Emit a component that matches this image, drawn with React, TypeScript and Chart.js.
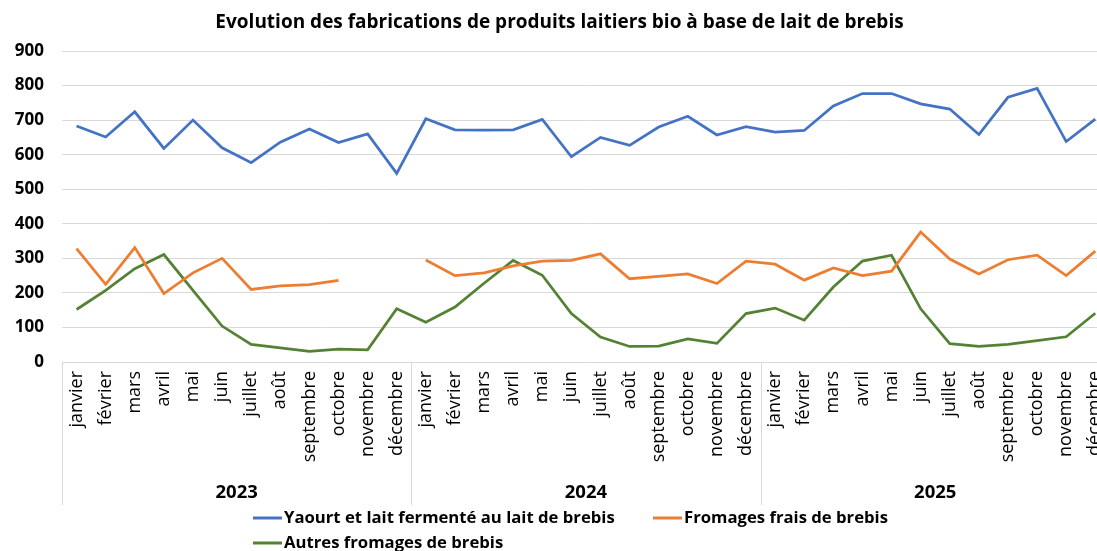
import React, { useEffect, useRef } from 'react';
import { Chart, registerables } from 'chart.js';

Chart.register(...registerables);

const title = 'Evolution des fabrications de produits laitiers bio à base de lait de brebis';
const months = ['janvier', 'février', 'mars', 'avril', 'mai', 'juin', 'juillet', 'août', 'septembre', 'octobre', 'novembre', 'décembre'];
const years = ['2023', '2024', '2025'];
const labels = [...months, ...months, ...months];
const yTicks = [0, 100, 200, 300, 400, 500, 600, 700, 800, 900];

const yaourt = [683, 651, 724, 618, 700, 620, 577, 636, 674, 635, 660, 546,
  704, 672, 671, 672, 702, 594, 650, 627, 680, 711, 657, 681,
  665, 670, 741, 777, 777, 747, 732, 658, 766, 792, 638, 703];
const frais = [328, 225, 331, 198, 258, 300, 210, 220, 224, 236, null, null,
  295, 250, 258, 278, 292, 294, 313, 241, 248, 255, 227, 292,
  283, 237, 272, 250, 263, 376, 298, 255, 296, 309, 250, 321];
const autres = [152, 207, 270, 311, 207, 104, 51, 41, 31, 37, 35, 154,
  115, 159, 228, 294, 251, 140, 72, 45, 46, 67, 54, 140,
  156, 121, 217, 292, 309, 154, 53, 45, 51, 62, 73, 141];

const seriesNames = ['Yaourt et lait fermenté au lait de brebis', 'Fromages frais de brebis', 'Autres fromages de brebis'];
const seriesColors = ['#4472C4', '#ED7D31', '#548235'];

const FONT = '"Open Sans", "Noto Sans", sans-serif';
const GRID = '#d9d9d9';

const groupPlugin = {
  id: 'groupsAndLegend',
  afterDraw(chart: any) {
    const ctx = chart.ctx;
    const xs = chart.scales.x;
    const area = chart.chartArea;
    ctx.save();
    // group dividers
    ctx.strokeStyle = GRID;
    ctx.lineWidth = 1;
    for (let g = 0; g <= years.length; g++) {
      const px = Math.round(xs.getPixelForValue(g * 12 - 0.5)) + 0.5;
      ctx.beginPath();
      ctx.moveTo(px, area.bottom);
      ctx.lineTo(px, xs.bottom);
      ctx.stroke();
    }
    // year labels
    ctx.fillStyle = '#000';
    ctx.font = 'bold 18.5px ' + FONT;
    ctx.textAlign = 'center';
    ctx.textBaseline = 'middle';
    years.forEach((yr, g) => {
      ctx.fillText(yr, xs.getPixelForValue(g * 12 + 5.5), xs.bottom - 12);
    });
    // legend
    const ds = chart.data.datasets;
    const items = [
      { i: 0, x: 253, y: 518 },
      { i: 1, x: 653, y: 518 },
      { i: 2, x: 253, y: 543 },
    ];
    ctx.font = 'bold 16.7px ' + FONT;
    ctx.textAlign = 'left';
    items.forEach(({ i, x, y }) => {
      ctx.strokeStyle = ds[i].borderColor;
      ctx.lineWidth = 3;
      ctx.beginPath();
      ctx.moveTo(x, y);
      ctx.lineTo(x + 29, y);
      ctx.stroke();
      ctx.fillStyle = '#000';
      ctx.fillText(ds[i].label, x + 31, y);
    });
    ctx.restore();
  },
};

export default function App() {
  const ref = useRef<HTMLCanvasElement | null>(null);
  useEffect(() => {
    if (!ref.current) return;
    const chart = new Chart(ref.current, {
      type: 'line',
      data: {
        labels,
        datasets: [yaourt, frais, autres].map((d, i) => ({
          label: seriesNames[i],
          data: d,
          borderColor: seriesColors[i],
          backgroundColor: seriesColors[i],
          borderWidth: 2.75,
          pointRadius: 0,
          tension: 0,
          spanGaps: false,
        })),
      },
      options: {
        animation: false,
        responsive: false,
        layout: { padding: { left: 0, right: 7, top: 0, bottom: 46 } },
        plugins: {
          legend: { display: false },
          tooltip: { enabled: false },
          title: {
            display: true,
            text: title,
            color: '#000',
            font: { family: FONT, size: 19, weight: 'bold', lineHeight: 1.2 },
            padding: { top: 11, bottom: 17.2 },
          },
        },
        scales: {
          x: {
            type: 'category',
            offset: true,
            grid: { display: false, drawTicks: false, offset: true },
            border: { display: false },
            ticks: {
              color: '#000',
              font: { family: FONT, size: 18 },
              minRotation: 90,
              maxRotation: 90,
              autoSkip: false,
              padding: 9,
            },
            afterFit: (s: any) => { s.height = 143; },
          },
          y: {
            min: 0,
            max: 900,
            afterBuildTicks: (s: any) => { s.ticks = yTicks.map((v) => ({ value: v })); },
            grid: { color: GRID, lineWidth: 1, drawTicks: false },
            border: { display: false },
            ticks: {
              color: '#000',
              font: { family: FONT, size: 17, weight: 'bold' },
              padding: 18,
            },
            afterFit: (s: any) => { s.width = 62; },
          },
        },
      },
      plugins: [groupPlugin],
    });
    return () => chart.destroy();
  }, []);

  return (
    <div style={{ position: 'fixed', left: 0, top: 0, width: 1097, height: 551, overflow: 'hidden', background: '#fff' }}>
      <canvas ref={ref} width={1126} height={551} style={{ display: 'block' }} />
    </div>
  );
}
